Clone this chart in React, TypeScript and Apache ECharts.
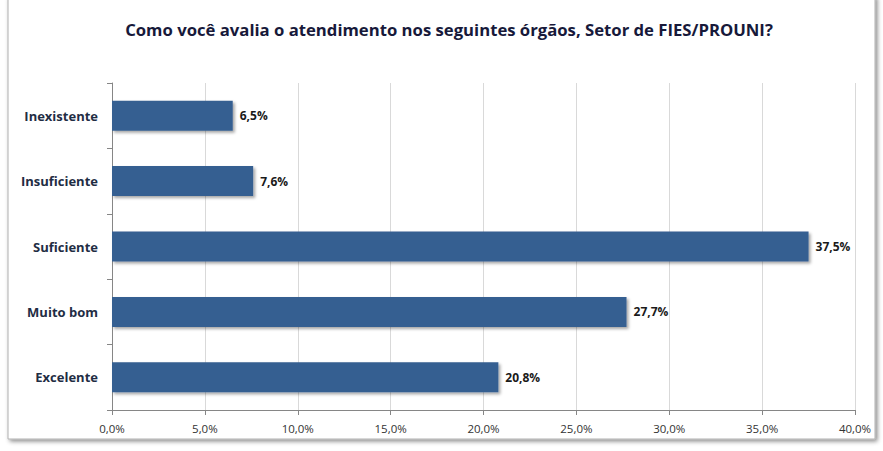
import React, { useEffect, useRef } from "react";
import * as echarts from "echarts";

const title = "Como você avalia o atendimento nos seguintes órgãos, Setor de FIES/PROUNI?";
const categories = ["Inexistente", "Insuficiente", "Suficiente", "Muito bom", "Excelente"];
const values = [6.5, 7.6, 37.5, 27.7, 20.8];
const axisMin = 0;
const axisMax = 40;
const axisStep = 5;

const fmt = (v: number) => v.toFixed(1).replace(".", ",") + "%";

export default function App() {
  const ref = useRef<HTMLDivElement>(null);
  useEffect(() => {
    if (!ref.current) return;
    const chart = echarts.init(ref.current, null, { renderer: "svg" });
    chart.setOption({
      animation: false,
      backgroundColor: "#ffffff",
      title: {
        text: title,
        left: 444,
        textAlign: "center",
        top: 16,
        textStyle: {
          fontFamily: "Open Sans",
          fontWeight: "bold",
          fontSize: 16.7,
          color: "#17193a",
        },
      },
      graphic: [
        {
          type: "rect",
          z: -10,
          silent: true,
          shape: { x: 8, y: -4, width: 867, height: 443 },
          style: {
            fill: "#ffffff",
            stroke: "#b0b0b0",
            lineWidth: 1,
            shadowBlur: 4,
            shadowOffsetX: 2,
            shadowOffsetY: 2,
            shadowColor: "rgba(0,0,0,0.45)",
          },
        },
      ],
      grid: { left: 112, right: 28, top: 83, bottom: 41, containLabel: false },
      xAxis: {
        type: "value",
        min: axisMin,
        max: axisMax,
        interval: axisStep,
        axisLine: { show: true, lineStyle: { color: "#868686" } },
        axisTick: { show: true, length: 5, lineStyle: { color: "#868686" } },
        splitLine: { show: true, lineStyle: { color: "#d9d9d9" } },
        axisLabel: {
          formatter: (v: number) => fmt(v),
          fontFamily: "Open Sans",
          fontSize: 11.5,
          color: "#333333",
          margin: 12,
        },
      },
      yAxis: {
        type: "category",
        data: categories,
        inverse: true,
        axisLine: { show: true, lineStyle: { color: "#868686" } },
        axisTick: { show: true, length: 5, lineStyle: { color: "#868686" } },
        axisLabel: {
          fontFamily: "Open Sans",
          fontWeight: "bold",
          fontSize: 13,
          color: "#1f2d44",
          margin: 14,
        },
      },
      series: [
        {
          type: "bar",
          data: values,
          barWidth: 30,
          itemStyle: {
            color: "#365f91",
            shadowColor: "rgba(0,0,0,0.35)",
            shadowBlur: 3,
            shadowOffsetX: 2,
            shadowOffsetY: 2,
          },
          label: {
            show: true,
            position: "right",
            distance: 7,
            formatter: (p: any) => fmt(p.value),
            fontFamily: "Open Sans",
            fontWeight: "bold",
            fontSize: 12,
            color: "#1a1a1a",
          },
        },
      ],
    });
    return () => chart.dispose();
  }, []);
  return (
    <div
      ref={ref}
      style={{ position: "fixed", left: 0, top: 0, width: 883, height: 451 }}
    />
  );
}
